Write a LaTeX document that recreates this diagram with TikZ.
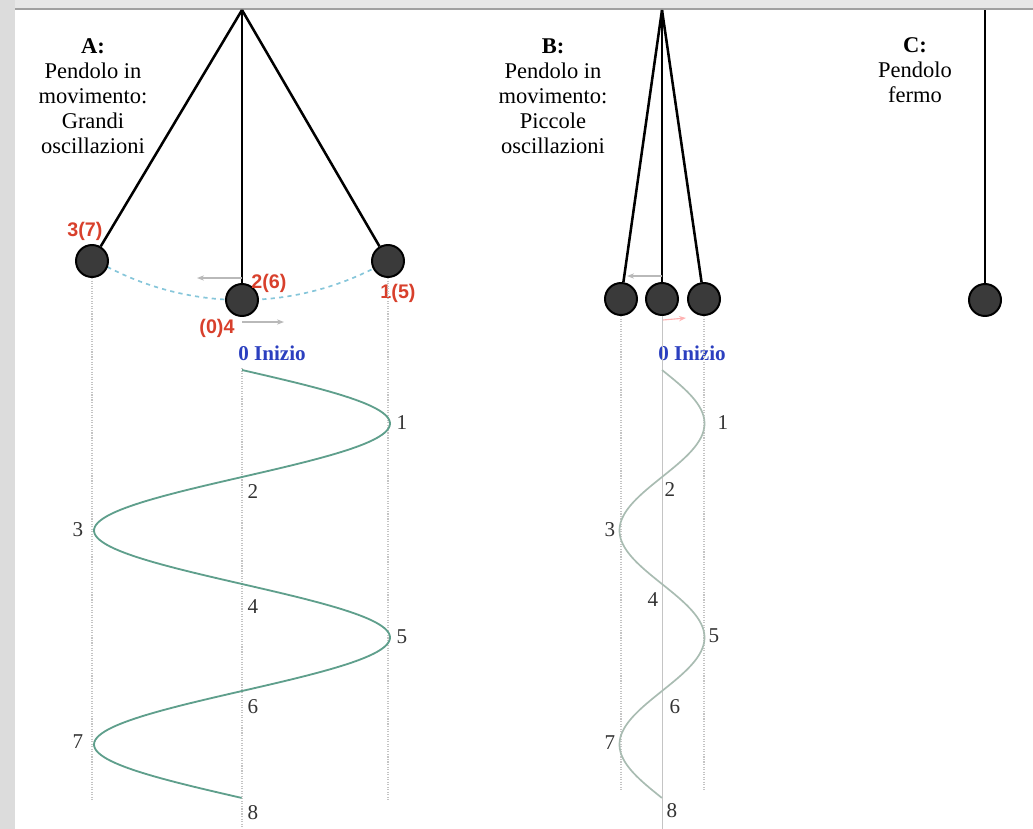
\documentclass[tikz,border=0pt]{standalone}
\usepackage{fontspec}
\setmainfont{Liberation Serif}
\newfontfamily\redfont{Liberation Sans}
\usetikzlibrary{arrows.meta}

\definecolor{frame}{HTML}{DCDCDC}
\definecolor{frameline}{HTML}{A0A0A0}
\definecolor{bobfill}{HTML}{3A3A3A}
\definecolor{arccol}{HTML}{86C6DA}
\definecolor{waveAcol}{HTML}{5F9F8C}
\definecolor{waveBcol}{HTML}{A9BCB2}
\definecolor{guidecol}{HTML}{C4C4C4}
\definecolor{redlab}{HTML}{D8402C}
\definecolor{bluelab}{HTML}{2B3FBF}
\definecolor{numcol}{HTML}{333333}

\begin{document}
\begin{tikzpicture}[x=0.025cm, y=-0.025cm,
    string/.style={line width=1.8pt},
    bob/.style={circle, draw=black, fill=bobfill, line width=1.4pt,
        minimum size=0.8cm, inner sep=0pt},
    info/.style={align=center, font=\fontsize{16}{17.8}\selectfont},
    redtag/.style={text=redlab, font=\redfont\bfseries\fontsize{14}{14}\selectfont},
    start/.style={text=bluelab, font=\bfseries\fontsize{15}{15}\selectfont},
    num/.style={text=numcol, font=\fontsize{15}{15}\selectfont},
    guide/.style={guidecol, densely dotted, line width=0.8pt},
    move/.style={gray!55, line width=0.8pt, -{Stealth[length=5pt]}}]
    \useasboundingbox (0,0) rectangle (1033,829);

    % window frame
    \fill[frame!70] (0,0) rectangle (1033,8);
    \fill[frame] (0,0) rectangle (15,829);
    \draw[frameline, line width=1.4pt] (15,9) -- (1033,9);

    % pivots
    \coordinate (pivA) at (242,10);
    \coordinate (pivB) at (662,10);
    \coordinate (pivC) at (985,10);

    % A: large swing
    \draw[arccol, dashed, line width=1.2pt]
        (pivA) ++(121:290) arc[start angle=121, end angle=59, radius=290];
    \node[bob] (bobAL) at (92,261) {};
    \node[bob] (bobAM) at (242,300) {};
    \node[bob] (bobAR) at (388,261) {};
    \draw[string] (pivA) -- (bobAL);
    \draw[string] (pivA) -- (bobAM);
    \draw[string] (pivA) -- (bobAR);

    \node[info] (infoA) at (93,96) {\textbf{A:}\\Pendolo in\\movimento:\\Grandi\\oscillazioni};
    \node[redtag] (tagA3) at (85,231) {3(7)};
    \node[redtag] (tagA2) at (269,283) {2(6)};
    \node[redtag] (tagA1) at (398,293) {1(5)};
    \node[redtag] (tagA0) at (217,328) {(0)4};
    \node[start] (startA) at (272,353) {0 Inizio};

    \coordinate (mvAl) at (197,278);
    \coordinate (mvAr) at (284,322);
    \draw[move] (bobAM.north |- mvAl) -- (mvAl);
    \draw[move] (bobAM.south |- mvAr) -- (mvAr);

    \draw[guide] (bobAL.south) -- (92,800);
    \draw[guide] (242,368) -- (242,829);
    \draw[guide] (bobAR.south) -- (388,800);

    \draw[waveAcol, line width=1.3pt]
        plot[domain=0:8, samples=200, smooth] ({242+148*sin(90*\x)}, {370+53.5*\x});
    \node[num] (nA1) at (402,423) {1};
    \node[num] (nA2) at (253,492) {2};
    \node[num] (nA3) at (78,530) {3};
    \node[num] (nA4) at (253,607) {4};
    \node[num] (nA5) at (402,637) {5};
    \node[num] (nA6) at (253,707) {6};
    \node[num] (nA7) at (78,742) {7};
    \node[num] (nA8) at (253,813) {8};

    % B: small swing
    \node[bob] (bobBL) at (621,299) {};
    \node[bob] (bobBM) at (662,299) {};
    \node[bob] (bobBR) at (704,299) {};
    \draw[string] (pivB) -- (bobBL);
    \draw[string] (pivB) -- (bobBM);
    \draw[string] (pivB) -- (bobBR);

    \node[info] (infoB) at (553,96) {\textbf{B:}\\Pendolo in\\movimento:\\Piccole\\oscillazioni};
    \node[start] (startB) at (692,353) {0 Inizio};

    \coordinate (mvBl) at (627,276);
    \coordinate (mvBr) at (686,318);
    \draw[move] (bobBM.north |- mvBl) -- (mvBl);
    \draw[move, red!30] (bobBM.south) ++(1,4) -- (mvBr);

    \draw[guide] (bobBL.south) -- (621,790);
    \draw[guide, solid, line width=0.5pt] (bobBM.south) -- (662,829);
    \draw[guide] (bobBR.south) -- (704,790);

    \draw[waveBcol, line width=1.2pt]
        plot[domain=0:8, samples=200, smooth] ({662+42.5*sin(90*\x)}, {370+53.5*\x});
    \node[num] (nB1) at (723,423) {1};
    \node[num] (nB2) at (670,490) {2};
    \node[num] (nB3) at (610,530) {3};
    \node[num] (nB4) at (653,600) {4};
    \node[num] (nB5) at (714,636) {5};
    \node[num] (nB6) at (675,707) {6};
    \node[num] (nB7) at (610,743) {7};
    \node[num] (nB8) at (672,811) {8};

    % C: at rest
    \node[bob] (bobC) at (985,300) {};
    \draw[string] (pivC) -- (bobC);
    \node[info] (infoC) at (915,70) {\textbf{C:}\\Pendolo\\fermo};
\end{tikzpicture}
\end{document}
